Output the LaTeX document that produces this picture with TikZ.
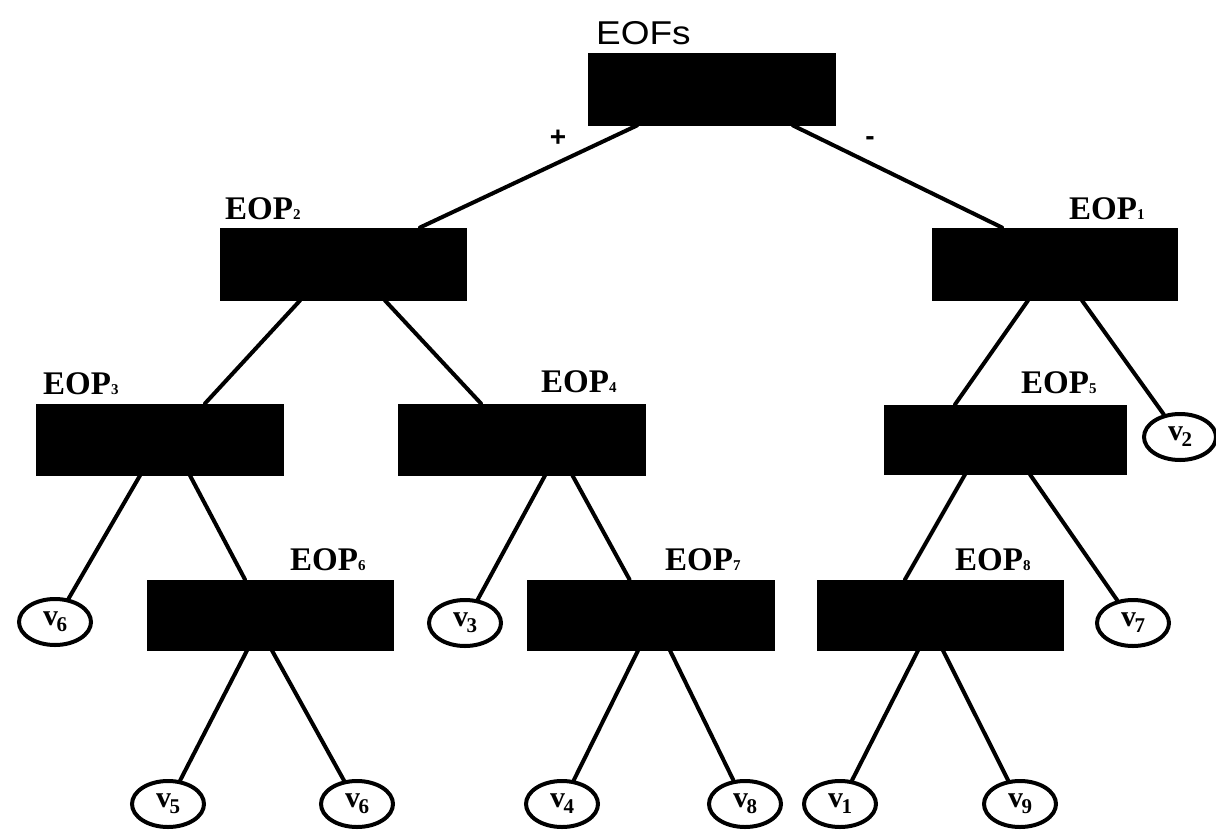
\documentclass[tikz,border=0pt]{standalone}
\usepackage{fontspec}
\setmainfont{Liberation Serif}
\newfontfamily\labelsans{Liberation Sans}
\usetikzlibrary{shapes.geometric}

% small index after an EOP name
\newcommand\eopsub[1]{{\fontsize{15}{15}\selectfont #1}}
% leaf variable with its index
\newcommand\leafv[1]{v\kern-1.5pt\raisebox{-6pt}{\fontsize{21}{21}\selectfont #1}}

\begin{document}
\begin{tikzpicture}[x=1pt,y=-1pt,
  eopbox/.style={rectangle, fill=black, draw=black, line width=1pt,
    minimum width=246pt, minimum height=71pt, inner sep=0pt},
  leaf/.style={ellipse, draw=black, line width=4pt, fill=white,
    minimum width=72pt, minimum height=46pt, inner sep=0pt,
    font=\fontsize{30}{30}\selectfont\bfseries},
  eoplabel/.style={anchor=base west, inner sep=0pt,
    font=\fontsize{33}{33}\selectfont\bfseries},
  sign/.style={inner sep=0pt, font=\labelsans\bfseries\fontsize{28}{28}\selectfont},
  link/.style={line width=4pt, line cap=round}]

\useasboundingbox (0,0) rectangle (1216,833);

% decision boxes
\node[eopbox, minimum width=247pt, minimum height=72pt] (eofs) at (711.5,89) {};
\node[eopbox, minimum height=72pt] (eop2) at (343,264) {};
\node[eopbox, minimum width=245pt, minimum height=72pt] (eop1) at (1054.5,264) {};
\node[eopbox, minimum width=247pt] (eop3) at (159.5,439.5) {};
\node[eopbox, minimum width=247pt] (eop4) at (521.5,439.5) {};
\node[eopbox, minimum width=242pt, minimum height=69pt] (eop5) at (1005,439.5) {};
\node[eopbox, minimum height=70pt] (eop6) at (270,615) {};
\node[eopbox, minimum width=247pt, minimum height=70pt] (eop7) at (650.5,615) {};
\node[eopbox, minimum height=70pt] (eop8) at (940,615) {};

% box titles
\node[anchor=base west, inner sep=0pt, font=\labelsans\fontsize{33}{33}\selectfont,
  xscale=1.12] (teofs) at (596,44) {EOFs};
\node[eoplabel] (t2) at (225,219) {EOP\eopsub{2}};
\node[eoplabel] (t1) at (1069,219) {EOP\eopsub{1}};
\node[eoplabel] (t3) at (43,394) {EOP\eopsub{3}};
\node[eoplabel] (t4) at (541,392) {EOP\eopsub{4}};
\node[eoplabel] (t5) at (1021,393) {EOP\eopsub{5}};
\node[eoplabel] (t6) at (290,570) {EOP\eopsub{6}};
\node[eoplabel] (t7) at (665,570) {EOP\eopsub{7}};
\node[eoplabel] (t8) at (955,570) {EOP\eopsub{8}};

% branch signs
\node[sign] (plus) at (558,138) {+};
\node[sign] (minus) at (870,141) {-};

% leaves
\node[leaf] (va) at (55,622) {\leafv{6}};
\node[leaf] (v3) at (465,623) {\leafv{3}};
\node[leaf] (v7) at (1133,623) {\leafv{7}};
\node[leaf] (v2) at (1180,437) {\leafv{2}};
\node[leaf] (v5) at (168,804) {\leafv{5}};
\node[leaf] (v6) at (357,804) {\leafv{6}};
\node[leaf] (v4) at (562,804) {\leafv{4}};
\node[leaf] (v8) at (745,804) {\leafv{8}};
\node[leaf] (v1) at (840,804) {\leafv{1}};
\node[leaf] (v9) at (1020,804) {\leafv{9}};

% branches
\draw[link] ([xshift=-74.5pt]eofs.south) -- ([xshift=77pt]eop2.north);
\draw[link] ([xshift=81.5pt]eofs.south) -- ([xshift=-52.5pt]eop1.north);
\draw[link] ([xshift=-43pt]eop2.south) -- ([xshift=45.5pt]eop3.north);
\draw[link] ([xshift=42pt]eop2.south) -- ([xshift=-40.5pt]eop4.north);
\draw[link] ([xshift=-26.5pt]eop1.south) -- ([xshift=-50pt]eop5.north);
\draw[link] ([xshift=27.5pt]eop1.south) -- (v2);
\draw[link] ([xshift=-19.5pt]eop3.south) -- (va);
\draw[link] ([xshift=30.5pt]eop3.south) -- ([xshift=-25pt]eop6.north);
\draw[link] ([xshift=23.5pt]eop4.south) -- (v3);
\draw[link] ([xshift=51pt]eop4.south) -- ([xshift=-21pt]eop7.north);
\draw[link] ([xshift=-40pt]eop5.south) -- ([xshift=-35pt]eop8.north);
\draw[link] ([xshift=25pt]eop5.south) -- (v7);
\draw[link] ([xshift=-23pt]eop6.south) -- (v5);
\draw[link] ([xshift=2pt]eop6.south) -- (v6);
\draw[link] ([xshift=-12.5pt]eop7.south) -- (v4);
\draw[link] ([xshift=19.5pt]eop7.south) -- (v8);
\draw[link] ([xshift=-22pt]eop8.south) -- (v1);
\draw[link] ([xshift=3pt]eop8.south) -- (v9);
\end{tikzpicture}
\end{document}
